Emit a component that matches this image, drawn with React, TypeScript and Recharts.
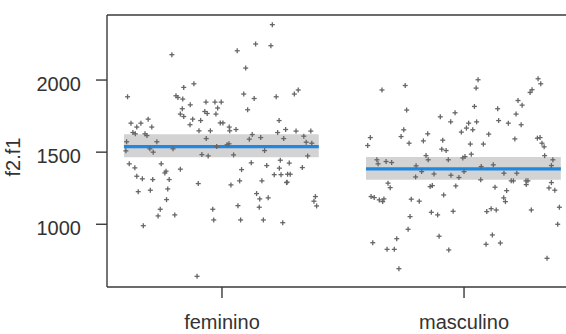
import React from "react";
import {
  ScatterChart,
  Scatter,
  XAxis,
  YAxis,
  ReferenceArea,
  ReferenceLine,
} from "recharts";

// categories and tick labels
const categories = ["feminino", "masculino"];
const yTicks = [1000, 1500, 2000];
const yMin = 565;
const yMax = 2451;
const xMin = 0.525;
const xMax = 2.475;

// horizontal jitter (offset from the category centre) and f2.f1 values
const femininoJitter = [
  0.208, 0.139, 0.202, 0.063, -0.207, 0.098, -0.116, -0.158, -0.39, -0.19,
  -0.182, -0.162, 0.09, 0.133, 0.224, -0.066, -0.029, -0.003, -0.131, -0.018,
  0.106, -0.164, -0.071, -0.061, -0.172, -0.158, -0.025, -0.121, -0.088, -0.007,
  0.004, 0.236, -0.305, -0.376, -0.335, -0.352, -0.29, -0.132, 0.03, 0.058,
  0.263, -0.368, -0.358, -0.318, -0.31, -0.095, -0.048, 0.032, 0.23, 0.125,
  0.16, 0.255, -0.065, 0.113, -0.269, -0.394, 0.029, 0.021, -0.202, -0.022,
  -0.397, -0.284, 0.176, -0.083, -0.057, 0.048, -0.298, -0.383, -0.36, -0.251,
  -0.231, -0.236, -0.172, 0.081, 0.121, 0.185, 0.216, 0.244, 0.237, -0.352,
  -0.329, -0.286, -0.218, -0.098, 0.037, 0.073, 0.165, 0.267, -0.346, -0.296,
  -0.224, 0.143, 0.191, -0.229, 0.156, -0.255, 0.066, 0.154, -0.038, -0.264,
  -0.195, -0.034, 0.077, 0.171, 0.251, -0.325, -0.103, 0.315, 0.299, 0.306,
  0.367, 0.338, 0.348, 0.371, 0.354, 0.332, 0.278, 0.271, 0.282, 0.269,
  0.386, 0.38, 0.391, 0.241,
];
const femininoValues = [
  2384, 2250, 2238, 2203, 2176, 2083, 1974, 1949, 1884, 1891,
  1879, 1868, 1903, 1872, 1884, 1847, 1847, 1847, 1828, 1806,
  1794, 1801, 1782, 1768, 1764, 1747, 1764, 1729, 1719, 1703,
  1703, 1719, 1729, 1701, 1701, 1674, 1674, 1690, 1674, 1657,
  1657, 1636, 1627, 1627, 1615, 1648, 1648, 1648, 1636, 1622,
  1601, 1594, 1594, 1590, 1572, 1572, 1558, 1551, 1523, 1539,
  1509, 1500, 1511, 1483, 1474, 1481, 1523, 1419, 1391, 1419,
  1368, 1356, 1382, 1379, 1426, 1407, 1344, 1344, 1389, 1333,
  1315, 1310, 1310, 1282, 1273, 1301, 1301, 1289, 1226, 1236,
  1245, 1213, 1183, 1171, 1176, 1104, 1129, 1118, 1104, 1058,
  1065, 1030, 1030, 1030, 1011, 990, 639, 1931, 1903, 1646,
  1646, 1611, 1569, 1562, 1474, 1393, 1424, 1347, 1347, 1292,
  1192, 1160, 1127, 1444,
];

const masculinoJitter = [
  0.058, 0.05, 0.306, 0.317, -0.339, -0.243, 0.281, 0.273, 0.223, 0.24,
  -0.237, 0.043, 0.139, -0.037, -0.098, 0.215, -0.055, 0.143, 0.183, 0.236,
  0.019, 0.052, 0.01, 0.036, -0.011, 0.102, -0.249, -0.26, -0.15, -0.168,
  -0.227, -0.387, -0.398, -0.088, 0.026, 0.08, 0.21, 0.303, 0.314, 0.322,
  0.331, -0.092, -0.074, -0.157, -0.148, -0.005, 0.004, 0.03, -0.065, 0.333,
  0.367, -0.36, -0.322, -0.299, -0.355, -0.198, 0.071, 0.121, 0.361, -0.175,
  0.0, -0.124, -0.054, -0.021, 0.069, 0.165, 0.218, -0.2, 0.195, 0.204,
  0.256, 0.264, 0.257, -0.314, -0.305, 0.361, -0.131, -0.14, -0.034, 0.128,
  0.351, 0.375, 0.176, -0.084, 0.164, 0.171, -0.384, -0.371, -0.35, -0.336,
  -0.331, -0.218, -0.185, 0.394, -0.135, -0.109, -0.045, 0.094, 0.112, 0.133,
  0.278, -0.223, 0.387, -0.231, -0.278, -0.377, -0.103, 0.117, 0.091, 0.15,
  -0.318, -0.288, -0.063, 0.343, -0.269,
];
const masculinoValues = [
  2002, 1944, 2009, 1974, 1931, 1962, 1933, 1914, 1858, 1826,
  1792, 1817, 1801, 1773, 1745, 1764, 1710, 1719, 1701, 1690,
  1701, 1710, 1667, 1655, 1639, 1625, 1655, 1608, 1627, 1578,
  1562, 1601, 1546, 1583, 1556, 1556, 1592, 1597, 1601, 1562,
  1537, 1521, 1511, 1476, 1447, 1460, 1469, 1486, 1447, 1476,
  1447, 1447, 1435, 1428, 1419, 1405, 1400, 1412, 1407, 1365,
  1365, 1349, 1340, 1324, 1308, 1354, 1354, 1328, 1301, 1301,
  1301, 1301, 1275, 1285, 1254, 1289, 1268, 1261, 1266, 1257,
  1252, 1236, 1233, 1203, 1183, 1157, 1192, 1185, 1169, 1157,
  1176, 1174, 1160, 1118, 1083, 1065, 1090, 1088, 1108, 1099,
  1099, 1053, 1000, 965, 900, 872, 917, 926, 861, 870,
  826, 826, 822, 764, 692,
];

// fitted means and confidence limits per category
const means = [1539, 1384];
const lower = [1465, 1308];
const upper = [1625, 1467];
const fitFrom = -0.405;
const fitTo = 0.4;

const toPoints = (jitter: number[], values: number[], pos: number) =>
  values.map((v, i) => ({ x: pos + jitter[i], y: v }));

const points = [
  ...toPoints(femininoJitter, femininoValues, 1),
  ...toPoints(masculinoJitter, masculinoValues, 2),
];

const font = "'Liberation Sans', Arial, sans-serif";
const frame = "#3a3a3a";

const Plus = (props: any) => {
  const { cx, cy } = props;
  if (cx == null || cy == null) return null;
  return (
    <g stroke="#666" strokeWidth={1.3}>
      <line x1={cx - 2.5} y1={cy} x2={cx + 2.5} y2={cy} />
      <line x1={cx} y1={cy - 2.5} x2={cx} y2={cy + 2.5} />
    </g>
  );
};

const YTick = (props: any) => {
  const { x, y, payload } = props;
  return (
    <text
      x={x}
      y={y + 4}
      textAnchor="end"
      dominantBaseline="central"
      fontSize={20}
      fontFamily={font}
      fill="#333"
    >
      {payload.value}
    </text>
  );
};

const XTick = (props: any) => {
  const { x, y, payload } = props;
  return (
    <text
      x={x}
      y={y}
      textAnchor="middle"
      fontSize={20}
      fontFamily={font}
      fill="#333"
    >
      {categories[payload.value - 1]}
    </text>
  );
};

const YLabel = () => {
  const x = 13;
  const y = 157;
  return (
    <text
      x={x}
      y={y}
      transform={`rotate(-90 ${x} ${y})`}
      textAnchor="middle"
      dominantBaseline="central"
      fontSize={20}
      fontFamily={font}
      fill="#333"
    >
      f2.f1
    </text>
  );
};

export default function App() {
  return (
    <div
      style={{
        position: "fixed",
        left: 0,
        top: 0,
        width: 566,
        height: 334,
        overflow: "hidden",
        background: "#fff",
      }}
    >
      <ScatterChart
        width={592}
        height={334}
        margin={{ top: 15, right: 13, bottom: 0, left: 0 }}
      >
        <XAxis
          type="number"
          dataKey="x"
          domain={[xMin, xMax]}
          ticks={[1, 2]}
          height={47}
          tickSize={11}
          tickMargin={31}
          stroke={frame}
          strokeWidth={1.4}
          tick={<XTick />}
          allowDataOverflow
        />
        <YAxis
          type="number"
          dataKey="y"
          domain={[yMin, yMax]}
          ticks={yTicks}
          width={107}
          tickSize={11}
          tickMargin={15}
          stroke={frame}
          strokeWidth={1.4}
          tick={<YTick />}
          label={<YLabel />}
          allowDataOverflow
        />
        {categories.map((c, i) => (
          <ReferenceArea
            key={`band-${c}`}
            x1={i + 1 + fitFrom}
            x2={i + 1 + fitTo}
            y1={lower[i]}
            y2={upper[i]}
            fill="#d3d3d3"
            fillOpacity={1}
            stroke="none"
          />
        ))}
        <Scatter data={points} shape={<Plus />} isAnimationActive={false} />
        {categories.map((c, i) => (
          <ReferenceLine
            key={`fit-${c}`}
            segment={[
              { x: i + 1 + fitFrom, y: means[i] },
              { x: i + 1 + fitTo, y: means[i] },
            ]}
            stroke="#1f88e0"
            strokeWidth={3.2}
          />
        ))}
        <ReferenceLine y={yMax} stroke={frame} strokeWidth={1.4} />
        <ReferenceLine x={xMax} stroke={frame} strokeWidth={1.4} />
      </ScatterChart>
    </div>
  );
}
